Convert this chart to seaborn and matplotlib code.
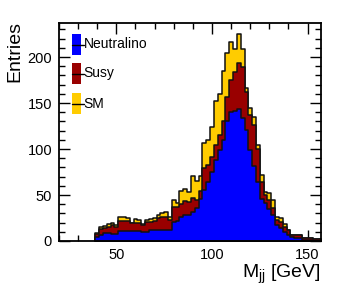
import numpy as np
import pandas as pd
import matplotlib
matplotlib.use("Agg")
import matplotlib.pyplot as plt
import seaborn as sns
from matplotlib.patches import Rectangle
from matplotlib.lines import Line2D
from matplotlib.ticker import MultipleLocator

# bins: 2 GeV wide, 39 -> 157 GeV
edges = list(range(39, 158, 2))
centers = [e + 1 for e in edges[:-1]]

# cumulative heights (stack tops)
total = [9, 15, 16, 18.5, 20, 17.5, 26, 26.5, 25, 20,
         23.5, 23, 18.5, 22.5, 23.5, 24.5, 28, 30, 32, 26.5,
         45, 41, 54, 56, 53, 71, 65, 71, 106, 110,
         124, 152, 160, 185, 204, 216, 209, 225, 209, 166,
         145, 135, 104, 72, 53.6, 51.8, 44.6, 26.4, 24.6, 19,
         12, 6.5, 6.5, 6.5, 3, 3, 3, 2, 2]
red_top = [7.5, 12.7, 13.8, 15.6, 17.4, 15, 22, 22, 22, 19.2,
           20, 20, 17.4, 21, 21, 22, 25.4, 26.4, 26.4, 23,
           37, 37, 40, 43, 42, 47, 45, 54, 79, 83,
           91, 104, 115, 130, 157, 175, 184, 193, 189, 162,
           137, 126, 100, 64, 50, 44.6, 35.5, 22.8, 21, 15.6,
           12, 6.5, 6.5, 6, 3, 3, 3, 2, 2]
neutralino = [4, 6.5, 8.4, 9, 8, 7.6, 10.9, 11, 11, 11,
              10.5, 11, 10, 10, 12, 11.5, 12, 12, 12.5, 12.5,
              21, 22, 26, 28, 28, 32, 36, 46, 55, 64,
              75, 88, 99, 110, 130, 140, 141, 143, 134, 121,
              99, 82, 64, 46, 41, 35, 28.3, 17.4, 13.8, 10,
              6.5, 4, 3, 3, 1.5, 1, 1, 0.5, 0.5]

susy = np.array(red_top) - np.array(neutralino)
sm = np.array(total) - np.array(red_top)

df = pd.DataFrame({"mass": centers,
                   "Neutralino": neutralino,
                   "Susy": np.array(neutralino) + susy,
                   "SM": np.array(red_top) + sm})

colors = {"Neutralino": "#0000ff", "Susy": "#990000", "SM": "#ffcc00"}

sns.set_theme(style="ticks")
plt.rcParams["font.family"] = ["Liberation Sans", "DejaVu Sans"]
plt.rcParams["mathtext.fontset"] = "custom"
plt.rcParams["mathtext.rm"] = "Liberation Sans"
plt.rcParams["mathtext.it"] = "Liberation Sans"
plt.rcParams["text.color"] = "black"

fig = plt.figure(figsize=(3.49, 2.95), dpi=100)
ax = fig.add_axes([59/349, 1-241/295, (321-59)/349, (241-23)/295])

# draw like a THStack: biggest cumulative first
for name in ["SM", "Susy", "Neutralino"]:
    sns.histplot(x=df["mass"], weights=df[name], bins=edges, element="step",
                 fill=True, color=colors[name], alpha=1, edgecolor="#111111",
                 linewidth=1.1, ax=ax)

ax.set_xlim(20, 157)
ax.set_ylim(0, 237)
ax.set_xlabel("")
ax.set_ylabel("")
ax.xaxis.set_major_locator(MultipleLocator(50))
ax.xaxis.set_minor_locator(MultipleLocator(10))
ax.yaxis.set_major_locator(MultipleLocator(50))
ax.yaxis.set_minor_locator(MultipleLocator(10))
ax.tick_params(which="both", direction="in", top=True, right=True,
               labelsize=10.5, width=1, color="black", labelcolor="black")
ax.tick_params(which="major", length=8, pad=5)
ax.tick_params(which="minor", length=4)
for s in ax.spines.values():
    s.set_linewidth(1.3)
    s.set_color("black")

fig.text(15/349, 1-21/295, "Entries", rotation=90, ha="center", va="top",
         fontsize=14, color="black")
fig.text(321/349, 1-278/295, r"M$_{\rm jj}$ [GeV]", ha="right", va="baseline",
         fontsize=14, color="black")

# ROOT style legend
labels = ["Neutralino", "Susy", "SM"]
box_tops = [34, 63, 93]
for lab, top in zip(labels, box_tops):
    y0 = (241 - (top + 21)) / 218
    h = 21 / 218
    ax.add_patch(Rectangle((13/262, y0), 9/262, h, transform=ax.transAxes,
                           facecolor=colors[lab], edgecolor="none", zorder=5))
    ax.add_line(Line2D([13/262, 25/262], [y0 + h/2, y0 + h/2], transform=ax.transAxes,
                       color="black", lw=1, zorder=6))
    ax.text(24.5/262, y0 + h/2, lab, transform=ax.transAxes, ha="left", va="center",
            fontsize=10, color="black", zorder=6)

fig.savefig("out.png", dpi=100)
